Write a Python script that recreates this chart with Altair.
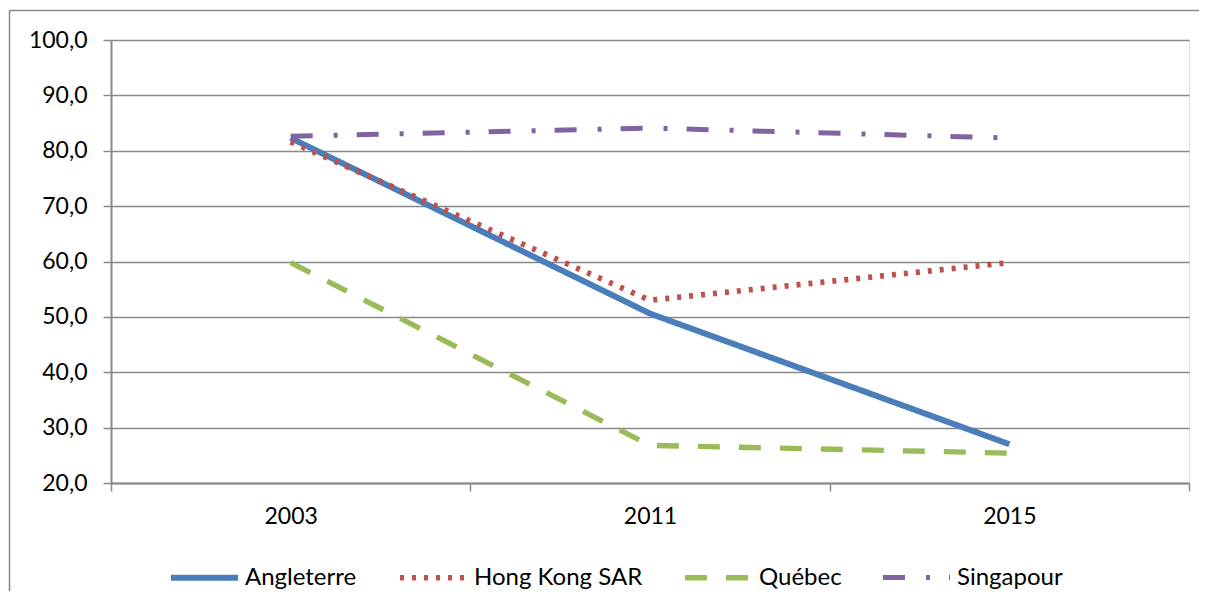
import altair as alt
import pandas as pd

years = ["2003", "2011", "2015"]
series = ["Angleterre", "Hong Kong SAR", "Québec", "Singapour"]
angleterre = [82.3, 50.6, 27.0]
hongkong = [81.6, 53.0, 59.8]
quebec = [59.8, 26.8, 25.4]
singapour = [82.6, 84.1, 82.3]

colors = ["#4A7EBB", "#C0504D", "#9BBB59", "#8064A2"]
dashes = [[1, 0], [4, 8], [22, 19], [22, 21, 4, 19]]
widths = [6, 5, 5, 5]

rows = []
for name, vals in zip(series, [angleterre, hongkong, quebec, singapour]):
    for y, v in zip(years, vals):
        rows.append({"Année": y, "Pays": name, "Valeur": v})
df = pd.DataFrame(rows)

FONT = "Lato"
GRAY = "#898989"

legend_cfg = dict(
    title=None,
    orient="none",
    direction="horizontal",
    columns=4,
    legendX=57,
    legendY=501,
    padding=0,
    symbolType="stroke",
    symbolSize=4489,
    symbolStrokeWidth=5,
    labelFontSize=24,
    labelFont=FONT,
    labelColor="#000000",
    labelOffset=4,
    columnPadding=31,
    labelLimit=400,
)

lines = alt.Chart(df).mark_line(interpolate="linear", strokeCap="butt", strokeJoin="round").encode(
    x=alt.X(
        "Année:O",
        sort=years,
        bandPosition=0.5,
        scale=alt.Scale(type="band", paddingInner=0, paddingOuter=0),
        axis=alt.Axis(
            title=None,
            labelAngle=0,
            tickBand="extent",
            grid=False,
            domainColor=GRAY,
            domainWidth=2,
            tickColor=GRAY,
            tickWidth=1.5,
            tickSize=8,
            labelPadding=14,
            labelFontSize=23,
            labelFont=FONT,
            labelColor="#000000",
        ),
    ),
    y=alt.Y(
        "Valeur:Q",
        scale=alt.Scale(domain=[20, 100], nice=False, zero=False),
        axis=alt.Axis(
            title=None,
            values=[20, 30, 40, 50, 60, 70, 80, 90, 100],
            labelExpr="replace(format(datum.value, '.1f'), '.', ',')",
            grid=True,
            gridColor=GRAY,
            gridWidth=1.5,
            domainColor=GRAY,
            domainWidth=2,
            tickColor=GRAY,
            tickWidth=1.5,
            tickSize=8,
            labelPadding=16,
            labelFontSize=23,
            labelFont=FONT,
            labelColor="#000000",
        ),
    ),
    color=alt.Color(
        "Pays:N",
        sort=series,
        scale=alt.Scale(domain=series, range=colors),
        legend=alt.Legend(**legend_cfg),
    ),
    strokeDash=alt.StrokeDash(
        "Pays:N",
        sort=series,
        scale=alt.Scale(domain=series, range=dashes),
        legend=alt.Legend(**legend_cfg),
    ),
    strokeWidth=alt.StrokeWidth(
        "Pays:N",
        scale=alt.Scale(domain=series, range=widths),
        legend=None,
    ),
)

frame_src = pd.DataFrame({"k": [0]})
left_edge = alt.Chart(frame_src).mark_rule(color=GRAY, strokeWidth=1.5).encode(
    x=alt.value(-101.5),
    y=alt.value(-29.5),
    y2=alt.value(560),
)
top_edge = alt.Chart(frame_src).mark_rule(color=GRAY, strokeWidth=1.5).encode(
    x=alt.value(-101.5),
    x2=alt.value(1088),
    y=alt.value(-29.5),
)

chart = alt.layer(left_edge, top_edge, lines).properties(
    width=1078,
    height=443,
    padding={"left": 103, "top": 32, "right": 10, "bottom": 108},
    autosize=alt.AutoSizeParams(type="none"),
).configure_view(stroke=None).configure(font=FONT)

chart.save("out.html", embed_options={"renderer": "svg", "actions": False})
